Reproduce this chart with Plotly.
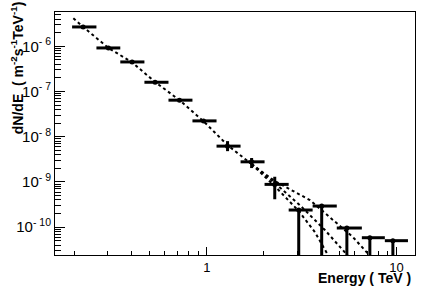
import plotly.graph_objects as go

# Data points (energy in TeV, flux dN/dE)
energy = [0.223, 0.303, 0.404, 0.534, 0.718, 0.961, 1.286, 1.722, 2.28, 3.05, 4.03, 5.47, 7.23, 9.56]
e_lo = [0.195, 0.262, 0.350, 0.469, 0.628, 0.840, 1.125, 1.506, 2.015, 2.70, 3.61, 4.84, 6.56, 8.67]
e_hi = [0.262, 0.350, 0.469, 0.628, 0.840, 1.125, 1.506, 2.015, 2.70, 3.61, 4.84, 6.56, 8.67, 11.48]
flux = [2.67e-6, 9.17e-7, 4.50e-7, 1.60e-7, 6.43e-8, 2.24e-8, 6.20e-9, 2.79e-9, 8.85e-10,
        2.40e-10, 2.94e-10, 9.60e-11, 5.86e-11, 5.04e-11]
flux_err_up = [0, 0, 0, 0, 0, 0, 1.8e-9, 0.6e-9, 0.42e-9, 0, 0, 0, 0, 0]
flux_err_dn = [0, 0, 0, 0, 0, 0, 1.4e-9, 0.76e-9, 0.47e-9,
               2.399e-10, 2.939e-10, 9.59e-11, 5.859e-11, 5.039e-11]

# Fit curves
fit_e = [0.198, 0.223, 0.303, 0.404, 0.534, 0.718, 0.961, 1.286, 1.722]
fit_f = [4.15e-6, 2.67e-6, 9.17e-7, 4.40e-7, 1.62e-7, 6.43e-8, 2.20e-8, 6.5e-9, 2.48e-9]
fitA_e = [1.722, 2.28, 3.05, 3.71, 4.44]
fitA_f = [2.48e-9, 8.1e-10, 2.28e-10, 7.83e-11, 2.09e-11]
fitB_e = [1.722, 2.28, 3.09, 4.19, 5.67]
fitB_f = [2.48e-9, 9.46e-10, 3.09e-10, 8.67e-11, 2.09e-11]
fitC_e = [1.722, 2.28, 3.49, 5.88, 7.41]
fitC_f = [2.48e-9, 1.05e-9, 3.98e-10, 6.08e-11, 2.09e-11]

y_major = [1e-10, 1e-9, 1e-8, 1e-7, 1e-6]
y_major_text = ["10<sup>- 10</sup>", "10<sup>- 9</sup>", "10<sup>- 8</sup>",
                "10<sup>- 7</sup>", "10<sup>- 6</sup>"]
y_minor = [m * 10.0 ** p for p in range(-11, -5) for m in range(2, 10)]
x_major = [1, 10]
x_major_text = ["1", "10"]
x_minor = [0.2, 0.3, 0.4, 0.5, 0.6, 0.7, 0.8, 0.9, 2, 3, 4, 5, 6, 7, 8, 9]

fig = go.Figure()
line_style = dict(color="black", width=2, dash="dot")
fig.add_trace(go.Scatter(x=fit_e, y=fit_f, mode="lines", line=line_style))
for xe, ye in [(fitA_e, fitA_f), (fitB_e, fitB_f), (fitC_e, fitC_f)]:
    fig.add_trace(go.Scatter(x=xe, y=ye, mode="lines", line=line_style))

fig.add_trace(go.Scatter(
    x=energy, y=flux, mode="markers",
    marker=dict(color="black", size=5, symbol="circle"),
    error_x=dict(type="data", symmetric=False,
                 array=[h - e for h, e in zip(e_hi, energy)],
                 arrayminus=[e - l for e, l in zip(energy, e_lo)],
                 color="black", thickness=3, width=0),
    error_y=dict(type="data", symmetric=False, array=flux_err_up,
                 arrayminus=flux_err_dn, color="black", thickness=3, width=0),
))

font = dict(family="Liberation Sans, Arial, sans-serif", color="black")
fig.update_layout(
    width=426, height=286,
    margin=dict(l=55, r=11, t=12, b=31),
    paper_bgcolor="white", plot_bgcolor="white",
    showlegend=False,
    font=dict(size=14, **font),
    xaxis=dict(type="log", range=[-0.80, 1.097], showgrid=False, zeroline=False,
               automargin=False,
               showline=True, linecolor="black", linewidth=1, mirror=True,
               ticks="inside", ticklen=8, tickwidth=1, tickcolor="black",
               tickmode="array", tickvals=x_major, ticktext=x_major_text,
               tickfont=dict(size=13, family="Liberation Sans", color="black"),
               minor=dict(tickmode="array", tickvals=x_minor, ticks="inside",
                          ticklen=4, tickcolor="black", showgrid=False)),
    yaxis=dict(type="log", range=[-10.614, -5.243], showgrid=False, zeroline=False,
               automargin=False,
               showline=True, linecolor="black", linewidth=1, mirror=True,
               ticks="inside", ticklen=10, tickwidth=1, tickcolor="black",
               tickmode="array", tickvals=y_major, ticktext=y_major_text,
               tickfont=dict(size=15, family="Liberation Sans", color="black"),
               minor=dict(tickmode="array", tickvals=y_minor, ticks="inside",
                          ticklen=6, tickcolor="black", showgrid=False)),
)

fig.add_annotation(
    text="<b>dN/dE  ( m<sup>-2</sup>s<sup>-1</sup>TeV<sup>-1</sup>)</b>",
    xref="paper", yref="paper", x=-0.105, y=(286 - 68 - 31) / 243,
    xanchor="center", yanchor="middle", textangle=-90, showarrow=False,
    font=dict(size=14, **font),
)
fig.add_annotation(
    text="<b>Energy ( TeV )</b>",
    xref="paper", yref="paper", x=(413 - 55) / 360, y=-(278 - 255) / 243,
    xanchor="right", yanchor="middle", showarrow=False,
    font=dict(size=14, **font),
)

fig.write_html("out.html")
